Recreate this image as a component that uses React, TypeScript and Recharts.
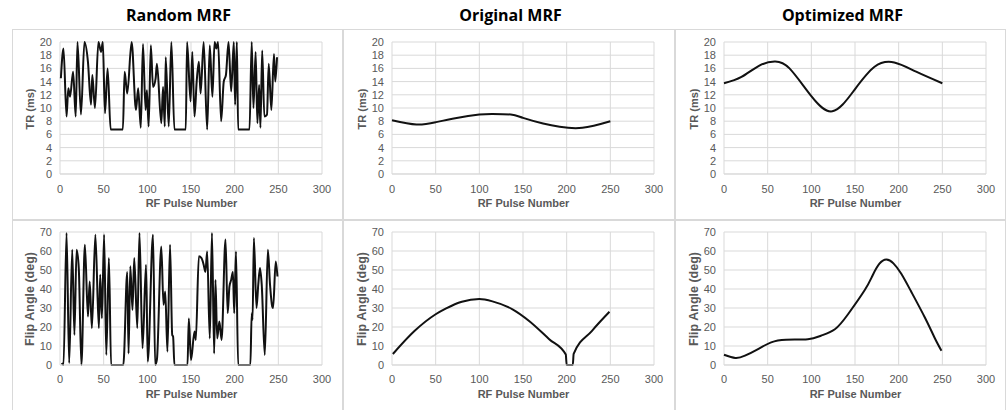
import { CartesianGrid, Line, LineChart, XAxis, YAxis } from "recharts";

// RF pulse index (x) and value (y)
const randomTrPulse = [1, 4, 7.5, 9.5, 11.5, 15, 18, 20, 24, 28, 32, 35.5, 37, 40, 44, 47, 49, 51.5, 54.5, 58, 72, 74, 77, 82, 87, 89.5, 92.5, 95, 98, 99.5, 101.5, 104, 106.5, 109.5, 111, 116, 118, 120, 121, 124.5, 127.5, 131, 144, 145.5, 149.5, 151.5, 154, 156.5, 159, 161, 164.5, 168.5, 171.5, 174.5, 177, 179, 181, 184.5, 187.5, 190, 193, 196, 199, 200.5, 202.5, 204, 217, 219.5, 221.5, 224, 226, 228, 229.5, 231.5, 234, 237, 239, 242, 245, 246.5, 248.5];
const randomTrValue = [14.5, 19, 8.7, 13, 11.7, 15.5, 8.7, 20, 9, 20, 17, 10.5, 15, 10, 20, 18.5, 20, 9.2, 16, 6.75, 6.75, 15.5, 12.2, 20, 9.7, 13, 7, 19.7, 9.7, 12.7, 7.2, 19.5, 13.2, 14.5, 16.7, 7.7, 13.2, 7.2, 17.7, 7.2, 20, 6.75, 6.75, 20, 11, 18.5, 8.7, 14, 17, 12.2, 20, 6.75, 19.5, 11.7, 20, 19, 20, 8, 14, 15, 20, 12.5, 20, 10.5, 20, 6.75, 6.75, 20, 10, 18.5, 7.7, 13.5, 7, 18.7, 8.7, 9, 16.7, 9.7, 18.2, 14, 17.7];

const randomFaPulse = [2, 4, 7.5, 10.5, 14, 16.5, 19, 21.5, 24.5, 28.5, 32, 34, 36.5, 40.5, 44.5, 46, 48, 50.5, 53, 56, 58.5, 72.5, 77, 78.5, 80.5, 83, 85, 88.5, 91, 94.5, 98.5, 100.5, 106.5, 109, 111, 116, 118.5, 120.5, 123, 126, 128.5, 129.5, 131, 146, 147.5, 150, 154, 155.5, 159, 162, 164.5, 166.5, 168.5, 171.5, 174, 176.5, 178, 180, 182.5, 185, 189.5, 192, 194, 196, 198, 199.5, 201.5, 204, 218, 219.5, 220.5, 222, 225, 227, 229, 231, 234.5, 238, 240.5, 243, 244, 247, 249];
const randomFaValue = [1, 0, 69.5, 1, 60.7, 15.8, 60.7, 51, 0, 63.3, 25.5, 44, 19.4, 68.6, 19.4, 47.5, 24.6, 68.6, 5.3, 56.3, 0, 0, 49, 6, 52, 29, 56.3, 19.4, 69.5, 8.8, 52.8, 1.8, 68.6, 0, 3, 62.4, 31.7, 38.7, 7, 63.3, 15.8, 15, 0, 0, 24.5, 2.6, 17.6, 13.2, 57.2, 56.3, 52.8, 49, 59.8, 14, 69.5, 6, 44.8, 14, 22.9, 13.2, 66, 27.3, 41.3, 44.8, 49, 27.3, 59.8, 0, 0, 27.3, 23.7, 66.8, 30, 42.2, 51, 42.2, 5.3, 60.7, 42.2, 30.8, 30, 54.5, 46.6];

const originalTrPulse = [0, 28, 50, 74, 100, 115, 136, 150, 173, 192, 218, 250];
const originalTrValue = [8.15, 7.5, 7.85, 8.5, 9.0, 9.1, 9.0, 8.5, 7.65, 7.15, 7.0, 8.0];

const originalFaPulse = [1, 26, 50, 62, 80, 100, 115, 138, 157, 180, 199, 200, 207, 208, 229, 249];
const originalFaValue = [5.8, 18, 26.7, 29.8, 33.3, 34.7, 33.5, 29.3, 23.2, 13.6, 5.5, 0, 0, 5.8, 18, 28];

const optimizedTrPulse = [0, 20, 40, 58, 75, 100, 124, 148, 172, 195, 220, 250];
const optimizedTrValue = [13.75, 14.7, 16.4, 17.05, 16, 11.8, 9.5, 12.5, 16.2, 16.9, 15.5, 13.75];

const optimizedFaPulse = [0, 13, 24, 39, 54, 71, 96, 111, 127, 142, 161, 170, 178, 186, 194, 203, 214, 230, 241, 249];
const optimizedFaValue = [5.4, 3.7, 4.9, 8.4, 11.9, 13.3, 13.6, 15.4, 18.8, 26.7, 39.3, 47, 53.3, 55.5, 53.5, 48, 38.9, 25, 14.5, 7.5];

const xTicks = [0, 50, 100, 150, 200, 250, 300];
const trTicks = [0, 2, 4, 6, 8, 10, 12, 14, 16, 18, 20];
const faTicks = [0, 10, 20, 30, 40, 50, 60, 70];

const columnTitles = ["Random MRF", "Original MRF", "Optimized MRF"];

const zip = (xs: number[], ys: number[]) => xs.map((x, i) => ({ x, y: ys[i] }));

const GRID = "#d9d9d9";
const TEXT = "#595959";
const FONT = "'Liberation Sans', Arial, sans-serif";

const colX = [12, 343, 675];
const colW = [331, 332, 331];
const plotLeft = [60, 392, 724];
const PLOT_W = 263;

interface PanelProps {
  col: number;
  top: number;
  height: number;
  plotTop: number;
  plotBottom: number;
  yTicks: number[];
  yTitle: string;
  yTitleSize: number;
  tickGap: number;
  curve: "monotone" | "natural";
  data: { x: number; y: number }[];
}

function Panel({ col, top, height, plotTop, plotBottom, yTicks, yTitle, yTitleSize, tickGap, curve, data }: PanelProps) {
  const x0 = colX[col];
  const w = colW[col];
  const axisW = 40;
  const axisH = 40;
  const margin = {
    left: plotLeft[col] - x0 - axisW - 1,
    top: plotTop - top - 1,
    right: x0 + w - (plotLeft[col] + PLOT_W),
    bottom: top + height - plotBottom - axisH,
  };
  const cx = plotLeft[col] + PLOT_W / 2;
  return (
    <>
      <div
        style={{
          position: "absolute",
          left: x0,
          top,
          width: w,
          height,
          boxSizing: "border-box",
          border: `1px solid ${GRID}`,
          background: "#fff",
        }}
      >
        <LineChart width={w - 2} height={height - 2} data={data} margin={margin} style={{ fontFamily: FONT }}>
          <CartesianGrid stroke={GRID} strokeWidth={1} />
          <XAxis
            type="number"
            dataKey="x"
            domain={[0, 300]}
            ticks={xTicks}
            interval={0}
            height={axisH}
            tickLine={false}
            tickMargin={tickGap}
            axisLine={{ stroke: GRID }}
            tick={{ fill: TEXT, fontSize: 11 }}
          />
          <YAxis
            type="number"
            domain={[0, yTicks[yTicks.length - 1]]}
            ticks={yTicks}
            interval={0}
            width={axisW}
            tickLine={false}
            axisLine={false}
            tick={{ fill: TEXT, fontSize: 11 }}
          />
          <Line
            type={curve}
            dataKey="y"
            stroke="#111"
            strokeWidth={2}
            dot={false}
            isAnimationActive={false}
          />
        </LineChart>
      </div>
      <div
        style={{
          position: "absolute",
          left: plotLeft[col] - 30 - 100,
          top: (plotTop + plotBottom) / 2 - 8,
          width: 200,
          height: 16,
          lineHeight: "16px",
          textAlign: "center",
          transform: "rotate(-90deg)",
          fontFamily: FONT,
          fontWeight: "bold",
          fontSize: yTitleSize,
          color: TEXT,
        }}
      >
        {yTitle}
      </div>
      <div
        style={{
          position: "absolute",
          left: cx - 100,
          top: plotBottom + 28 - 8,
          width: 200,
          height: 16,
          lineHeight: "16px",
          textAlign: "center",
          fontFamily: FONT,
          fontWeight: "bold",
          fontSize: 11,
          color: TEXT,
        }}
      >
        RF Pulse Number
      </div>
    </>
  );
}

export default function App() {
  return (
    <div style={{ position: "absolute", left: 0, top: 0, width: 1008, height: 410, background: "#fff", overflow: "hidden" }}>
      {columnTitles.map((t, i) => (
        <div
          key={t}
          style={{
            position: "absolute",
            left: plotLeft[i] + PLOT_W / 2 - 13 - 100,
            top: 3,
            width: 200,
            height: 24,
            lineHeight: "24px",
            textAlign: "center",
            fontFamily: "'Open Sans', sans-serif",
            fontWeight: "bold",
            fontSize: 16,
            color: "#000",
          }}
        >
          {t}
        </div>
      ))}
      <Panel col={0} top={29} height={191} plotTop={42} plotBottom={175} yTicks={trTicks} yTitle="TR (ms)" yTitleSize={11} tickGap={5} curve="monotone" data={zip(randomTrPulse, randomTrValue)} />
      <Panel col={1} top={29} height={191} plotTop={42} plotBottom={175} yTicks={trTicks} yTitle="TR (ms)" yTitleSize={11} tickGap={5} curve="natural" data={zip(originalTrPulse, originalTrValue)} />
      <Panel col={2} top={29} height={191} plotTop={42} plotBottom={175} yTicks={trTicks} yTitle="TR (ms)" yTitleSize={11} tickGap={5} curve="natural" data={zip(optimizedTrPulse, optimizedTrValue)} />
      <Panel col={0} top={220} height={192} plotTop={232} plotBottom={366} yTicks={faTicks} yTitle="Flip Angle (deg)" yTitleSize={12.5} tickGap={4} curve="monotone" data={zip(randomFaPulse, randomFaValue)} />
      <Panel col={1} top={220} height={192} plotTop={232} plotBottom={366} yTicks={faTicks} yTitle="Flip Angle (deg)" yTitleSize={12.5} tickGap={4} curve="monotone" data={zip(originalFaPulse, originalFaValue)} />
      <Panel col={2} top={220} height={192} plotTop={232} plotBottom={366} yTicks={faTicks} yTitle="Flip Angle (deg)" yTitleSize={12.5} tickGap={4} curve="natural" data={zip(optimizedFaPulse, optimizedFaValue)} />
    </div>
  );
}
